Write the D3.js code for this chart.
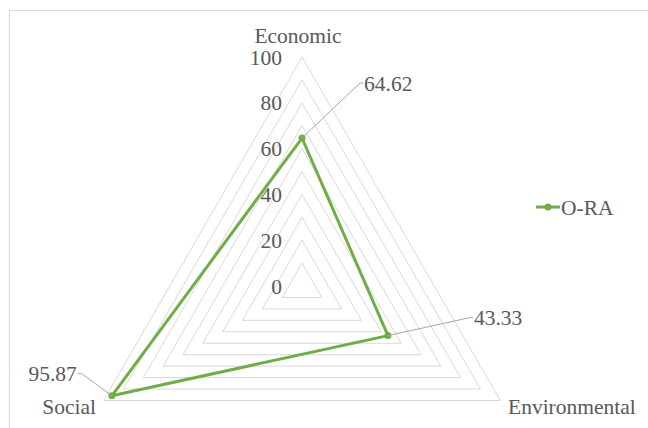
<!DOCTYPE html>
<html>
<head>
<meta charset="utf-8">
<script src="https://cdn.jsdelivr.net/npm/d3@7"></script>
<style>
  html, body { margin: 0; padding: 0; background: #fff; }
  svg { display: block; }
</style>
</head>
<body>
<svg id="chart" width="648" height="428"></svg>
<script>
// Radar chart data
const axes = ["Economic", "Environmental", "Social"];
const seriesName = "O-RA";
const values = [64.62, 43.33, 95.87];
const tickValues = [0, 20, 40, 60, 80, 100];
const gridValues = [10, 20, 30, 40, 50, 60, 70, 80, 90, 100];

const svg = d3.select("#chart")
  .attr("font-family", "'Liberation Serif', 'Times New Roman', serif");
const W = 648, H = 428;
const cx = 302, cy = 286, R = 229;
const green = "#70ad47";
const textColor = "#595959";
const fontSize = 21.5;

// outer chart frame
svg.append("rect")
  .attr("x", 9.5).attr("y", 10.5)
  .attr("width", W + 10).attr("height", H + 10)
  .attr("fill", "none").attr("stroke", "#d9d9d9").attr("stroke-width", 1);

const r = d3.scaleLinear().domain([0, 100]).range([0, R]);
const angle = i => -Math.PI / 2 + i * 2 * Math.PI / axes.length;
const pt = (i, v) => [cx + r(v) * Math.cos(angle(i)), cy + r(v) * Math.sin(angle(i))];

// grid triangles
const g = svg.append("g");
g.selectAll("polygon.grid").data(gridValues).join("polygon")
  .attr("class", "grid")
  .attr("points", v => axes.map((_, i) => pt(i, v).join(",")).join(" "))
  .attr("fill", "none").attr("stroke", "#d9d9d9").attr("stroke-width", 1);

// radial tick labels along the top axis
g.selectAll("text.tick").data(tickValues).join("text")
  .attr("class", "tick")
  .attr("x", cx - 20)
  .attr("y", v => cy - r(v))
  .attr("dy", "0.35em")
  .attr("text-anchor", "end")
  .attr("font-size", fontSize)
  .attr("fill", textColor)
  .text(v => v);

// category labels
const catPos = [
  { x: cx - 4, y: 35, anchor: "middle" },
  { x: 508, y: 406, anchor: "start" },
  { x: 96, y: 406, anchor: "end" }
];
g.selectAll("text.cat").data(axes).join("text")
  .attr("class", "cat")
  .attr("x", (d, i) => catPos[i].x)
  .attr("y", (d, i) => catPos[i].y)
  .attr("dy", "0.35em")
  .attr("text-anchor", (d, i) => catPos[i].anchor)
  .attr("font-size", fontSize)
  .attr("fill", textColor)
  .text(d => d);

// series line
const pts = values.map((v, i) => pt(i, v));
g.append("polygon")
  .attr("points", pts.map(p => p.join(",")).join(" "))
  .attr("fill", "none").attr("stroke", green).attr("stroke-width", 3)
  .attr("stroke-linejoin", "round");
g.selectAll("circle.marker").data(pts).join("circle")
  .attr("class", "marker")
  .attr("cx", d => d[0]).attr("cy", d => d[1]).attr("r", 3.5)
  .attr("fill", green);

// value labels with leader lines
const labelOffsets = [
  { dx: 58, dy: -55, hook: 3, anchor: "start", tx: 1 },
  { dx: 82, dy: -18, hook: 3, anchor: "start", tx: 1 },
  { dx: -30, dy: -22, hook: -4, anchor: "end", tx: -1 }
];
values.forEach((v, i) => {
  const [px, py] = pts[i];
  const o = labelOffsets[i];
  const ex = px + o.dx, ey = py + o.dy;
  g.append("path")
    .attr("d", `M${px},${py}L${ex},${ey}L${ex + o.hook},${ey}`)
    .attr("fill", "none").attr("stroke", "#a6a6a6").attr("stroke-width", 1);
  g.append("text")
    .attr("x", ex + o.hook + o.tx)
    .attr("y", ey)
    .attr("dy", "0.35em")
    .attr("text-anchor", o.anchor)
    .attr("font-size", fontSize)
    .attr("fill", textColor)
    .text(v.toFixed(2));
});

// legend
const lg = svg.append("g").attr("transform", "translate(536,207)");
lg.append("line").attr("x1", 0).attr("x2", 24).attr("y1", 0).attr("y2", 0)
  .attr("stroke", green).attr("stroke-width", 3);
lg.append("circle").attr("cx", 12).attr("cy", 0).attr("r", 3.5).attr("fill", green);
lg.append("text").attr("x", 25).attr("y", 0).attr("dy", "0.35em")
  .attr("font-size", fontSize).attr("fill", textColor).text(seriesName);
</script>
</body>
</html>
